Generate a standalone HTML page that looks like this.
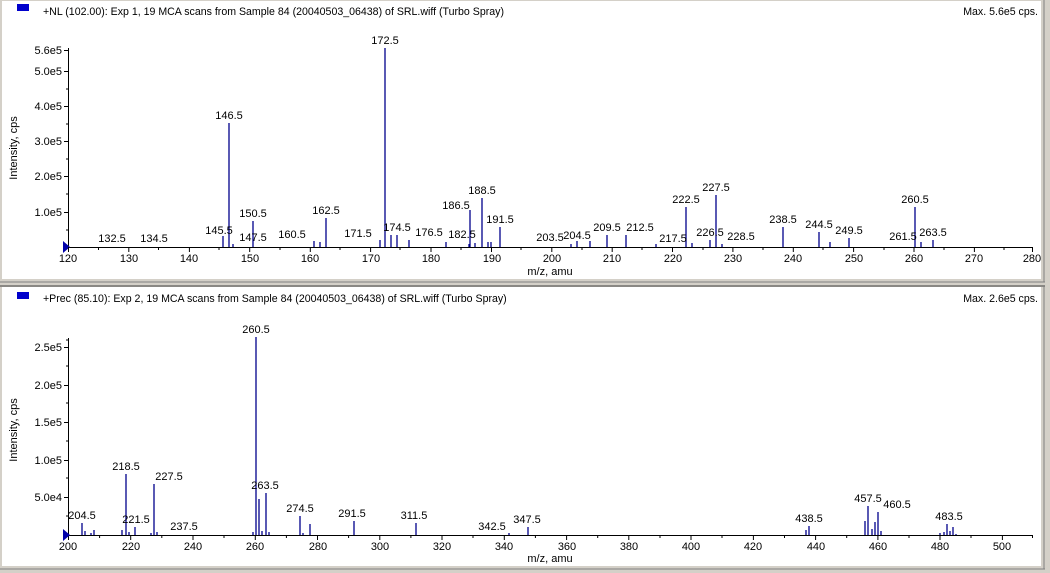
<!DOCTYPE html>
<html><head><style>
html,body{margin:0;padding:0;background:#d4d0c8;}
svg{display:block;font-family:"Liberation Sans",sans-serif;font-size:11px;}
.h{font-size:10.6px;}
</style></head><body>
<svg width="1050" height="573" viewBox="0 0 1050 573" xmlns="http://www.w3.org/2000/svg">
<rect x="0" y="0" width="1050" height="573" fill="#d4d0c8"/>
<rect x="2" y="1" width="1039" height="278" fill="#fff"/>
<line x1="1044" y1="0" x2="1044" y2="282" stroke="#808080"/>
<line x1="0" y1="282" x2="1045" y2="282" stroke="#808080"/>
<line x1="0" y1="286" x2="1045" y2="286" stroke="#404040"/>
<rect x="2" y="287" width="1039" height="279" fill="#fff"/>
<line x1="1044" y1="286" x2="1044" y2="569" stroke="#808080"/>
<line x1="0" y1="569" x2="1045" y2="569" stroke="#808080"/>

<!-- TOP PANEL -->
<rect x="17" y="4" width="12" height="7" fill="#0000cc"/>
<text class="h" x="43" y="15">+NL (102.00): Exp 1, 19 MCA scans from Sample 84 (20040503_06438) of SRL.wiff (Turbo Spray)</text>
<text class="h" x="1038" y="15" text-anchor="end">Max. 5.6e5 cps.</text>
<text transform="translate(17,148) rotate(-90)" text-anchor="middle">Intensity, cps</text>
<text x="550" y="275" text-anchor="middle">m/z, amu</text>
<g stroke="#000" stroke-width="1">
<line x1="68.5" y1="48" x2="68.5" y2="247"/>
<line x1="68" y1="247.5" x2="1033" y2="247.5"/>
<line x1="64" y1="50.5" x2="68" y2="50.5"/>
<line x1="64" y1="71.5" x2="68" y2="71.5"/>
<line x1="64" y1="106.5" x2="68" y2="106.5"/>
<line x1="64" y1="141.5" x2="68" y2="141.5"/>
<line x1="64" y1="176.5" x2="68" y2="176.5"/>
<line x1="64" y1="212.5" x2="68" y2="212.5"/>
<line x1="66" y1="89" x2="68" y2="89"/><line x1="66" y1="124" x2="68" y2="124"/><line x1="66" y1="159" x2="68" y2="159"/><line x1="66" y1="194" x2="68" y2="194"/><line x1="66" y1="230" x2="68" y2="230"/>
</g>
<polygon points="63,241 70,247 63,253" fill="#0000aa"/>
<g text-anchor="end">
<text x="62" y="54">5.6e5</text><text x="62" y="75">5.0e5</text><text x="62" y="110">4.0e5</text>
<text x="62" y="145">3.0e5</text><text x="62" y="180">2.0e5</text><text x="62" y="216">1.0e5</text>
</g>
<g stroke="#000">
<path d="M68.5 247v5M98.5 247v3M128.8 247v5M158.5 247v3M189.4 247v5M219 247v3M249.7 247v5M280 247v3M310.3 247v5M340 247v3M370.6 247v5M400 247v3M431 247v5M461 247v3M491.5 247v5M521 247v3M551.8 247v5M582 247v3M612.2 247v5M642 247v3M672.5 247v5M703 247v3M732.9 247v5M763 247v3M793.3 247v5M823 247v3M853.6 247v5M884 247v3M914 247v5M944 247v3M974.4 247v5M1004 247v3M1032.5 247v5"/>
</g>
<g text-anchor="middle">
<text x="68" y="262">120</text><text x="129" y="262">130</text><text x="189" y="262">140</text><text x="250" y="262">150</text><text x="310" y="262">160</text><text x="371" y="262">170</text><text x="431" y="262">180</text><text x="492" y="262">190</text><text x="552" y="262">200</text><text x="612" y="262">210</text><text x="673" y="262">220</text><text x="733" y="262">230</text><text x="793" y="262">240</text><text x="854" y="262">250</text><text x="914" y="262">260</text><text x="974" y="262">270</text><text x="1032" y="262">280</text>
</g>
<g stroke="#00008b" stroke-width="1.3">
<path d="M223 247V236M229 247V123M233 247V244M253 247V221M314 247V241M320 247V242M326 247V218M380 247V240M385 247V48M391 247V235M397 247V235M409 247V240M446 247V242M469 247V244M475 247V243M470 247V210M482 247V198M488 247V242M491 247V242M500 247V227M571 247V244M577 247V241M590 247V241M607 247V235M626 247V235M656 247V244M686 247V207M692 247V243M710 247V240M716 247V195M722 247V244M783 247V227M819 247V232M830 247V242M849 247V238M915 247V207M921 247V242M933 247V240"/>
</g>
<g text-anchor="middle">
<text x="229" y="119">146.5</text><text x="385" y="44">172.5</text>
<text x="219" y="234">145.5</text><text x="253" y="217">150.5</text><text x="253" y="241">147.5</text>
<text x="326" y="214">162.5</text><text x="292" y="238">160.5</text><text x="358" y="237">171.5</text>
<text x="397" y="231">174.5</text><text x="429" y="236">176.5</text><text x="462" y="238">182.5</text>
<text x="456" y="209">186.5</text><text x="482" y="194">188.5</text><text x="500" y="223">191.5</text>
<text x="550" y="241">203.5</text><text x="577" y="239">204.5</text><text x="607" y="231">209.5</text><text x="640" y="231">212.5</text>
<text x="673" y="242">217.5</text><text x="686" y="203">222.5</text><text x="716" y="191">227.5</text>
<text x="710" y="236">226.5</text><text x="741" y="240">228.5</text><text x="783" y="223">238.5</text>
<text x="819" y="228">244.5</text><text x="849" y="234">249.5</text><text x="915" y="203">260.5</text>
<text x="903" y="240">261.5</text><text x="933" y="236">263.5</text><text x="112" y="242">132.5</text><text x="154" y="242">134.5</text>
</g>

<!-- BOTTOM PANEL -->
<rect x="17" y="292" width="12" height="7" fill="#0000cc"/>
<text class="h" x="43" y="302">+Prec (85.10): Exp 2, 19 MCA scans from Sample 84 (20040503_06438) of SRL.wiff (Turbo Spray)</text>
<text class="h" x="1038" y="302" text-anchor="end">Max. 2.6e5 cps.</text>
<text transform="translate(17,430) rotate(-90)" text-anchor="middle">Intensity, cps</text>
<text x="550" y="562" text-anchor="middle">m/z, amu</text>
<g stroke="#000">
<line x1="68.5" y1="338" x2="68.5" y2="535"/>
<line x1="68" y1="535.5" x2="1033" y2="535.5"/>
<path d="M64 347.5h4M64 385.5h4M64 422.5h4M64 460.5h4M64 497.5h4M66 366h2M66 403h2M66 441h2M66 478h2M66 516h2M66 340h2"/>
<path d="M68.5 535v5M99.6 535v3M130.7 535v5M161.8 535v3M193 535v5M224 535v3M255.3 535v5M286.4 535v3M317.5 535v5M348.6 535v3M379.8 535v5M410.9 535v3M442 535v5M473 535v3M504.3 535v5M535.4 535v3M566.6 535v5M597.7 535v3M628.8 535v5M660 535v3M691 535v5M722 535v3M753.4 535v5M784.5 535v3M815.6 535v5M846.7 535v3M877.9 535v5M909 535v3M940 535v5M971 535v3M1002.4 535v5M1032.5 535v3"/>
</g>
<polygon points="63,529 70,535 63,541" fill="#0000aa"/>
<g text-anchor="end">
<text x="62" y="351">2.5e5</text><text x="62" y="389">2.0e5</text><text x="62" y="426">1.5e5</text><text x="62" y="464">1.0e5</text><text x="62" y="501">5.0e4</text>
</g>
<g text-anchor="middle">
<text x="68" y="550">200</text><text x="131" y="550">220</text><text x="193" y="550">240</text><text x="255" y="550">260</text><text x="318" y="550">280</text><text x="380" y="550">300</text><text x="442" y="550">320</text><text x="504" y="550">340</text><text x="567" y="550">360</text><text x="629" y="550">380</text><text x="691" y="550">400</text><text x="753" y="550">420</text><text x="816" y="550">440</text><text x="878" y="550">460</text><text x="940" y="550">480</text><text x="1002" y="550">500</text>
</g>
<g stroke="#00008b" stroke-width="1.3">
<path d="M82 535V523M85 535V531M91 535V533M94 535V530M122 535V530M126 535V474M129 535V532M135 535V527M151 535V533M154 535V484M157 535V532M253 535V532M256 535V337M259 535V499M262 535V531M266 535V493M269 535V532M300 535V516M303 535V533M310 535V524M354 535V521M416 535V523M509 535V533M528 535V527M806 535V530M809 535V526M865 535V521M868 535V506M872 535V529M875 535V522M878 535V512M881 535V531M940 535V533M944 535V532M947 535V524M950 535V531M953 535V527M956 535V534"/>
</g>
<g text-anchor="middle">
<text x="82" y="519">204.5</text><text x="126" y="470">218.5</text><text x="136" y="523">221.5</text>
<text x="169" y="480">227.5</text><text x="184" y="530">237.5</text><text x="256" y="333">260.5</text>
<text x="265" y="489">263.5</text><text x="300" y="512">274.5</text><text x="352" y="517">291.5</text>
<text x="414" y="519">311.5</text><text x="492" y="530">342.5</text><text x="527" y="523">347.5</text>
<text x="809" y="522">438.5</text><text x="868" y="502">457.5</text><text x="897" y="508">460.5</text><text x="949" y="520">483.5</text>
</g>
</svg>
</body></html>
